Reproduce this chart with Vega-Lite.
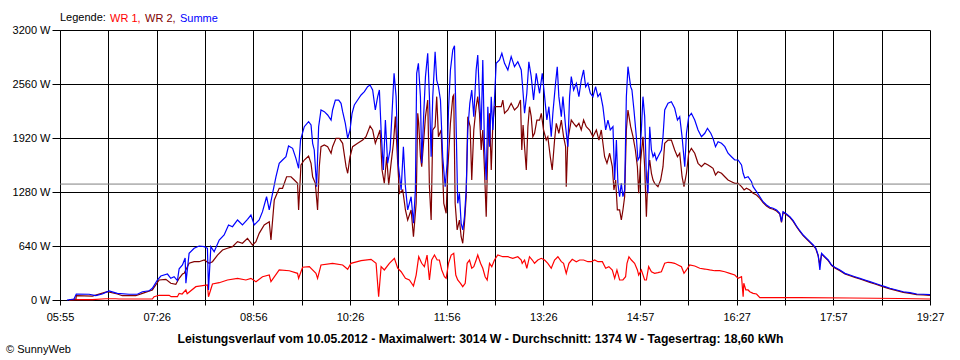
{
"$schema":"https://vega.github.io/schema/vega-lite/v6.json",
"width":870,"height":270,"autosize":"none",
"padding":{"left":60,"top":30,"right":30,"bottom":60},
"background":"white",
"config":{"font":"Liberation Sans","view":{"stroke":null}},
"title":{"text":"© SunnyWeb","orient":"bottom","anchor":"start","dx":-6,"offset":0,"fontSize":11,"fontWeight":"normal","color":"#000"},
"layer":[
{"data":{"values":[
{"s":"WR 1","t":363.4,"w":0},{"s":"WR 1","t":370.2,"w":4},{"s":"WR 1","t":385.2,"w":4},{"s":"WR 1","t":397.7,"w":15},{"s":"WR 1","t":407.0,"w":15},{"s":"WR 1","t":410.1,"w":12},{"s":"WR 1","t":441.2,"w":12},{"s":"WR 1","t":442.8,"w":39},{"s":"WR 1","t":447.5,"w":56},{"s":"WR 1","t":456.9,"w":56},{"s":"WR 1","t":458.7,"w":39},{"s":"WR 1","t":464.6,"w":39},{"s":"WR 1","t":466.2,"w":79},{"s":"WR 1","t":469.0,"w":71},{"s":"WR 1","t":472.5,"w":119},{"s":"WR 1","t":473.7,"w":75},{"s":"WR 1","t":481.8,"w":158},{"s":"WR 1","t":492.6,"w":178},{"s":"WR 1","t":493.6,"w":39},{"s":"WR 1","t":497.3,"w":190},{"s":"WR 1","t":503.6,"w":205},{"s":"WR 1","t":511.3,"w":237},{"s":"WR 1","t":520.7,"w":257},{"s":"WR 1","t":528.5,"w":237},{"s":"WR 1","t":533.2,"w":257},{"s":"WR 1","t":537.9,"w":217},{"s":"WR 1","t":544.0,"w":276},{"s":"WR 1","t":550.3,"w":296},{"s":"WR 1","t":551.9,"w":217},{"s":"WR 1","t":559.6,"w":356},{"s":"WR 1","t":569.0,"w":347},{"s":"WR 1","t":576.7,"w":316},{"s":"WR 1","t":577.7,"w":257},{"s":"WR 1","t":581.4,"w":388},{"s":"WR 1","t":587.7,"w":395},{"s":"WR 1","t":593.9,"w":316},{"s":"WR 1","t":595.4,"w":257},{"s":"WR 1","t":598.6,"w":415},{"s":"WR 1","t":609.4,"w":435},{"s":"WR 1","t":618.8,"w":415},{"s":"WR 1","t":623.5,"w":364},{"s":"WR 1","t":626.6,"w":435},{"s":"WR 1","t":636.0,"w":466},{"s":"WR 1","t":645.3,"w":482},{"s":"WR 1","t":650.0,"w":435},{"s":"WR 1","t":652.4,"w":39},{"s":"WR 1","t":654.7,"w":395},{"s":"WR 1","t":657.7,"w":356},{"s":"WR 1","t":662.4,"w":435},{"s":"WR 1","t":667.1,"w":494},{"s":"WR 1","t":670.2,"w":376},{"s":"WR 1","t":673.4,"w":335},{"s":"WR 1","t":677.4,"w":257},{"s":"WR 1","t":681.1,"w":237},{"s":"WR 1","t":684.9,"w":166},{"s":"WR 1","t":687.4,"w":296},{"s":"WR 1","t":689.8,"w":513},{"s":"WR 1","t":692.6,"w":435},{"s":"WR 1","t":695.1,"w":395},{"s":"WR 1","t":697.6,"w":533},{"s":"WR 1","t":699.8,"w":237},{"s":"WR 1","t":701.9,"w":474},{"s":"WR 1","t":704.5,"w":533},{"s":"WR 1","t":707.0,"w":474},{"s":"WR 1","t":709.1,"w":474},{"s":"WR 1","t":711.3,"w":356},{"s":"WR 1","t":713.8,"w":276},{"s":"WR 1","t":715.4,"w":257},{"s":"WR 1","t":717.6,"w":435},{"s":"WR 1","t":720.1,"w":533},{"s":"WR 1","t":722.5,"w":553},{"s":"WR 1","t":724.4,"w":296},{"s":"WR 1","t":726.2,"w":237},{"s":"WR 1","t":728.8,"w":198},{"s":"WR 1","t":730.9,"w":158},{"s":"WR 1","t":733.2,"w":198},{"s":"WR 1","t":735.0,"w":435},{"s":"WR 1","t":737.2,"w":474},{"s":"WR 1","t":739.3,"w":376},{"s":"WR 1","t":741.2,"w":395},{"s":"WR 1","t":743.4,"w":474},{"s":"WR 1","t":744.9,"w":533},{"s":"WR 1","t":747.5,"w":435},{"s":"WR 1","t":749.6,"w":376},{"s":"WR 1","t":751.8,"w":276},{"s":"WR 1","t":753.7,"w":237},{"s":"WR 1","t":755.9,"w":435},{"s":"WR 1","t":758.0,"w":395},{"s":"WR 1","t":760.5,"w":474},{"s":"WR 1","t":763.6,"w":533},{"s":"WR 1","t":768.3,"w":513},{"s":"WR 1","t":773.0,"w":513},{"s":"WR 1","t":777.6,"w":494},{"s":"WR 1","t":782.3,"w":513},{"s":"WR 1","t":785.5,"w":474},{"s":"WR 1","t":786.4,"w":435},{"s":"WR 1","t":788.6,"w":474},{"s":"WR 1","t":790.7,"w":376},{"s":"WR 1","t":793.2,"w":513},{"s":"WR 1","t":795.8,"w":474},{"s":"WR 1","t":797.9,"w":435},{"s":"WR 1","t":801.0,"w":474},{"s":"WR 1","t":804.2,"w":494},{"s":"WR 1","t":807.3,"w":474},{"s":"WR 1","t":810.3,"w":435},{"s":"WR 1","t":813.5,"w":376},{"s":"WR 1","t":816.6,"w":474},{"s":"WR 1","t":819.7,"w":513},{"s":"WR 1","t":822.9,"w":454},{"s":"WR 1","t":825.0,"w":435},{"s":"WR 1","t":827.5,"w":316},{"s":"WR 1","t":830.0,"w":435},{"s":"WR 1","t":833.1,"w":482},{"s":"WR 1","t":836.9,"w":454},{"s":"WR 1","t":840.0,"w":474},{"s":"WR 1","t":843.7,"w":474},{"s":"WR 1","t":847.7,"w":454},{"s":"WR 1","t":850.9,"w":454},{"s":"WR 1","t":854.0,"w":474},{"s":"WR 1","t":857.1,"w":454},{"s":"WR 1","t":861.2,"w":454},{"s":"WR 1","t":864.3,"w":376},{"s":"WR 1","t":867.3,"w":395},{"s":"WR 1","t":870.5,"w":356},{"s":"WR 1","t":872.7,"w":257},{"s":"WR 1","t":874.8,"w":356},{"s":"WR 1","t":877.3,"w":237},{"s":"WR 1","t":880.4,"w":237},{"s":"WR 1","t":882.9,"w":276},{"s":"WR 1","t":884.2,"w":435},{"s":"WR 1","t":886.0,"w":513},{"s":"WR 1","t":888.3,"w":474},{"s":"WR 1","t":891.3,"w":435},{"s":"WR 1","t":893.9,"w":356},{"s":"WR 1","t":895.1,"w":296},{"s":"WR 1","t":897.6,"w":356},{"s":"WR 1","t":900.7,"w":237},{"s":"WR 1","t":902.3,"w":237},{"s":"WR 1","t":904.4,"w":395},{"s":"WR 1","t":907.0,"w":335},{"s":"WR 1","t":910.0,"w":316},{"s":"WR 1","t":913.1,"w":324},{"s":"WR 1","t":916.3,"w":335},{"s":"WR 1","t":919.4,"w":435},{"s":"WR 1","t":922.5,"w":447},{"s":"WR 1","t":925.6,"w":442},{"s":"WR 1","t":928.7,"w":435},{"s":"WR 1","t":931.8,"w":415},{"s":"WR 1","t":935.0,"w":395},{"s":"WR 1","t":937.4,"w":316},{"s":"WR 1","t":939.7,"w":356},{"s":"WR 1","t":942.7,"w":415},{"s":"WR 1","t":947.4,"w":403},{"s":"WR 1","t":952.1,"w":376},{"s":"WR 1","t":956.8,"w":367},{"s":"WR 1","t":961.4,"w":356},{"s":"WR 1","t":966.1,"w":347},{"s":"WR 1","t":970.8,"w":347},{"s":"WR 1","t":975.5,"w":335},{"s":"WR 1","t":980.1,"w":316},{"s":"WR 1","t":984.8,"w":296},{"s":"WR 1","t":987.9,"w":257},{"s":"WR 1","t":991.1,"w":276},{"s":"WR 1","t":992.6,"w":39},{"s":"WR 1","t":993.2,"w":198},{"s":"WR 1","t":995.1,"w":119},{"s":"WR 1","t":997.2,"w":119},{"s":"WR 1","t":998.8,"w":98},{"s":"WR 1","t":1001.9,"w":79},{"s":"WR 1","t":1005.1,"w":71},{"s":"WR 1","t":1008.2,"w":27},{"s":"WR 1","t":1045.5,"w":27},{"s":"WR 1","t":1092.3,"w":24},{"s":"WR 1","t":1139.0,"w":18},{"s":"WR 1","t":1167.0,"w":12},
{"s":"WR 2","t":363.4,"w":0},{"s":"WR 2","t":369.9,"w":12},{"s":"WR 2","t":370.2,"w":51},{"s":"WR 2","t":385.2,"w":47},{"s":"WR 2","t":399.2,"w":98},{"s":"WR 2","t":408.5,"w":71},{"s":"WR 2","t":413.2,"w":51},{"s":"WR 2","t":425.7,"w":51},{"s":"WR 2","t":431.9,"w":79},{"s":"WR 2","t":441.2,"w":119},{"s":"WR 2","t":447.5,"w":237},{"s":"WR 2","t":453.8,"w":245},{"s":"WR 2","t":458.4,"w":198},{"s":"WR 2","t":463.1,"w":186},{"s":"WR 2","t":466.2,"w":257},{"s":"WR 2","t":469.3,"w":308},{"s":"WR 2","t":470.9,"w":316},{"s":"WR 2","t":475.5,"w":435},{"s":"WR 2","t":480.2,"w":454},{"s":"WR 2","t":484.9,"w":454},{"s":"WR 2","t":489.6,"w":474},{"s":"WR 2","t":494.2,"w":435},{"s":"WR 2","t":497.3,"w":454},{"s":"WR 2","t":502.0,"w":533},{"s":"WR 2","t":506.7,"w":593},{"s":"WR 2","t":511.3,"w":613},{"s":"WR 2","t":516.0,"w":632},{"s":"WR 2","t":520.7,"w":691},{"s":"WR 2","t":525.3,"w":672},{"s":"WR 2","t":530.0,"w":731},{"s":"WR 2","t":534.7,"w":652},{"s":"WR 2","t":537.9,"w":691},{"s":"WR 2","t":540.9,"w":790},{"s":"WR 2","t":545.6,"w":889},{"s":"WR 2","t":550.3,"w":928},{"s":"WR 2","t":551.9,"w":711},{"s":"WR 2","t":555.0,"w":1185},{"s":"WR 2","t":559.6,"w":1324},{"s":"WR 2","t":562.7,"w":1324},{"s":"WR 2","t":566.5,"w":1461},{"s":"WR 2","t":570.6,"w":1461},{"s":"WR 2","t":573.7,"w":1422},{"s":"WR 2","t":576.7,"w":1383},{"s":"WR 2","t":577.7,"w":1067},{"s":"WR 2","t":579.9,"w":1600},{"s":"WR 2","t":583.0,"w":1659},{"s":"WR 2","t":587.0,"w":1707},{"s":"WR 2","t":589.3,"w":1620},{"s":"WR 2","t":590.8,"w":1461},{"s":"WR 2","t":593.3,"w":1383},{"s":"WR 2","t":595.4,"w":1067},{"s":"WR 2","t":597.0,"w":1580},{"s":"WR 2","t":598.6,"w":1817},{"s":"WR 2","t":601.7,"w":1837},{"s":"WR 2","t":604.8,"w":1817},{"s":"WR 2","t":608.0,"w":1739},{"s":"WR 2","t":609.4,"w":1817},{"s":"WR 2","t":612.6,"w":1916},{"s":"WR 2","t":615.7,"w":1916},{"s":"WR 2","t":618.8,"w":1857},{"s":"WR 2","t":622.0,"w":1580},{"s":"WR 2","t":623.5,"w":1502},{"s":"WR 2","t":625.7,"w":1698},{"s":"WR 2","t":628.1,"w":1817},{"s":"WR 2","t":632.8,"w":1857},{"s":"WR 2","t":637.5,"w":1896},{"s":"WR 2","t":640.6,"w":1935},{"s":"WR 2","t":644.4,"w":2062},{"s":"WR 2","t":646.8,"w":2015},{"s":"WR 2","t":649.3,"w":1857},{"s":"WR 2","t":651.5,"w":1935},{"s":"WR 2","t":653.7,"w":2015},{"s":"WR 2","t":655.6,"w":1541},{"s":"WR 2","t":657.7,"w":1383},{"s":"WR 2","t":659.9,"w":1698},{"s":"WR 2","t":661.8,"w":1363},{"s":"WR 2","t":664.0,"w":1620},{"s":"WR 2","t":666.2,"w":1857},{"s":"WR 2","t":668.0,"w":2173},{"s":"WR 2","t":670.2,"w":1620},{"s":"WR 2","t":671.8,"w":1265},{"s":"WR 2","t":674.9,"w":1304},{"s":"WR 2","t":677.4,"w":1067},{"s":"WR 2","t":679.5,"w":948},{"s":"WR 2","t":682.7,"w":1067},{"s":"WR 2","t":684.9,"w":750},{"s":"WR 2","t":687.4,"w":1146},{"s":"WR 2","t":688.9,"w":2213},{"s":"WR 2","t":689.8,"w":2094},{"s":"WR 2","t":691.4,"w":1698},{"s":"WR 2","t":692.6,"w":1580},{"s":"WR 2","t":694.5,"w":1896},{"s":"WR 2","t":696.1,"w":2173},{"s":"WR 2","t":698.2,"w":2370},{"s":"WR 2","t":699.8,"w":1343},{"s":"WR 2","t":701.4,"w":948},{"s":"WR 2","t":702.9,"w":2015},{"s":"WR 2","t":705.1,"w":2054},{"s":"WR 2","t":706.6,"w":2410},{"s":"WR 2","t":708.2,"w":1935},{"s":"WR 2","t":710.7,"w":2015},{"s":"WR 2","t":713.2,"w":1146},{"s":"WR 2","t":715.4,"w":1028},{"s":"WR 2","t":716.9,"w":1541},{"s":"WR 2","t":719.4,"w":2094},{"s":"WR 2","t":721.6,"w":2410},{"s":"WR 2","t":722.5,"w":2430},{"s":"WR 2","t":723.8,"w":1146},{"s":"WR 2","t":725.7,"w":830},{"s":"WR 2","t":727.8,"w":948},{"s":"WR 2","t":729.4,"w":750},{"s":"WR 2","t":730.9,"w":672},{"s":"WR 2","t":732.5,"w":909},{"s":"WR 2","t":734.1,"w":1224},{"s":"WR 2","t":735.6,"w":2173},{"s":"WR 2","t":737.8,"w":2054},{"s":"WR 2","t":739.3,"w":1422},{"s":"WR 2","t":741.2,"w":2015},{"s":"WR 2","t":743.4,"w":2291},{"s":"WR 2","t":744.9,"w":2410},{"s":"WR 2","t":746.5,"w":2213},{"s":"WR 2","t":748.1,"w":1778},{"s":"WR 2","t":749.6,"w":2015},{"s":"WR 2","t":751.2,"w":1541},{"s":"WR 2","t":752.8,"w":987},{"s":"WR 2","t":754.3,"w":1778},{"s":"WR 2","t":755.9,"w":2213},{"s":"WR 2","t":757.5,"w":1541},{"s":"WR 2","t":759.0,"w":2094},{"s":"WR 2","t":760.5,"w":2291},{"s":"WR 2","t":763.6,"w":2291},{"s":"WR 2","t":766.8,"w":2291},{"s":"WR 2","t":768.3,"w":2370},{"s":"WR 2","t":769.9,"w":2213},{"s":"WR 2","t":773.0,"w":2252},{"s":"WR 2","t":776.1,"w":2331},{"s":"WR 2","t":779.2,"w":2252},{"s":"WR 2","t":782.3,"w":2291},{"s":"WR 2","t":784.8,"w":2370},{"s":"WR 2","t":786.0,"w":1778},{"s":"WR 2","t":787.2,"w":2074},{"s":"WR 2","t":788.6,"w":1817},{"s":"WR 2","t":790.2,"w":1541},{"s":"WR 2","t":791.7,"w":2054},{"s":"WR 2","t":793.2,"w":2291},{"s":"WR 2","t":794.8,"w":2173},{"s":"WR 2","t":796.3,"w":1935},{"s":"WR 2","t":797.9,"w":1976},{"s":"WR 2","t":800.1,"w":2133},{"s":"WR 2","t":802.6,"w":2133},{"s":"WR 2","t":804.2,"w":2213},{"s":"WR 2","t":806.3,"w":2015},{"s":"WR 2","t":808.8,"w":1896},{"s":"WR 2","t":810.3,"w":1935},{"s":"WR 2","t":812.6,"w":1698},{"s":"WR 2","t":814.4,"w":1541},{"s":"WR 2","t":816.6,"w":1896},{"s":"WR 2","t":818.2,"w":2094},{"s":"WR 2","t":820.6,"w":1976},{"s":"WR 2","t":822.9,"w":2133},{"s":"WR 2","t":825.0,"w":1935},{"s":"WR 2","t":826.9,"w":1817},{"s":"WR 2","t":827.5,"w":1343},{"s":"WR 2","t":829.0,"w":1896},{"s":"WR 2","t":830.6,"w":2015},{"s":"WR 2","t":832.2,"w":2133},{"s":"WR 2","t":834.4,"w":2094},{"s":"WR 2","t":836.9,"w":2054},{"s":"WR 2","t":839.3,"w":2094},{"s":"WR 2","t":841.5,"w":2015},{"s":"WR 2","t":843.7,"w":2133},{"s":"WR 2","t":846.2,"w":2054},{"s":"WR 2","t":849.3,"w":2015},{"s":"WR 2","t":852.4,"w":1935},{"s":"WR 2","t":855.6,"w":2015},{"s":"WR 2","t":858.0,"w":1896},{"s":"WR 2","t":860.2,"w":2015},{"s":"WR 2","t":863.3,"w":1698},{"s":"WR 2","t":865.5,"w":1620},{"s":"WR 2","t":868.0,"w":1739},{"s":"WR 2","t":870.5,"w":1580},{"s":"WR 2","t":872.0,"w":1304},{"s":"WR 2","t":873.6,"w":1422},{"s":"WR 2","t":875.2,"w":1067},{"s":"WR 2","t":877.3,"w":1067},{"s":"WR 2","t":878.9,"w":948},{"s":"WR 2","t":880.4,"w":1067},{"s":"WR 2","t":882.0,"w":1224},{"s":"WR 2","t":883.6,"w":2015},{"s":"WR 2","t":885.1,"w":2252},{"s":"WR 2","t":887.6,"w":2054},{"s":"WR 2","t":889.8,"w":1935},{"s":"WR 2","t":892.0,"w":1778},{"s":"WR 2","t":893.9,"w":1580},{"s":"WR 2","t":895.1,"w":1265},{"s":"WR 2","t":897.0,"w":1659},{"s":"WR 2","t":899.1,"w":1935},{"s":"WR 2","t":900.7,"w":1580},{"s":"WR 2","t":902.3,"w":987},{"s":"WR 2","t":903.8,"w":1502},{"s":"WR 2","t":905.4,"w":1659},{"s":"WR 2","t":907.0,"w":1502},{"s":"WR 2","t":908.5,"w":1422},{"s":"WR 2","t":910.0,"w":1383},{"s":"WR 2","t":913.1,"w":1343},{"s":"WR 2","t":915.6,"w":1422},{"s":"WR 2","t":917.8,"w":1580},{"s":"WR 2","t":919.4,"w":1857},{"s":"WR 2","t":922.5,"w":1896},{"s":"WR 2","t":925.6,"w":1896},{"s":"WR 2","t":928.7,"w":1778},{"s":"WR 2","t":931.3,"w":1698},{"s":"WR 2","t":933.4,"w":1739},{"s":"WR 2","t":935.6,"w":1461},{"s":"WR 2","t":937.4,"w":1343},{"s":"WR 2","t":939.7,"w":1502},{"s":"WR 2","t":941.8,"w":1739},{"s":"WR 2","t":944.3,"w":1798},{"s":"WR 2","t":947.4,"w":1739},{"s":"WR 2","t":950.5,"w":1620},{"s":"WR 2","t":953.7,"w":1580},{"s":"WR 2","t":956.8,"w":1620},{"s":"WR 2","t":959.9,"w":1600},{"s":"WR 2","t":962.4,"w":1580},{"s":"WR 2","t":964.5,"w":1561},{"s":"WR 2","t":966.8,"w":1482},{"s":"WR 2","t":969.2,"w":1521},{"s":"WR 2","t":972.4,"w":1502},{"s":"WR 2","t":975.5,"w":1461},{"s":"WR 2","t":978.5,"w":1422},{"s":"WR 2","t":981.7,"w":1402},{"s":"WR 2","t":984.8,"w":1383},{"s":"WR 2","t":987.9,"w":1383},{"s":"WR 2","t":991.1,"w":1343},{"s":"WR 2","t":993.5,"w":1304},{"s":"WR 2","t":995.7,"w":1324},{"s":"WR 2","t":998.8,"w":1304},{"s":"WR 2","t":1001.9,"w":1265},{"s":"WR 2","t":1005.1,"w":1244},{"s":"WR 2","t":1008.2,"w":1205},{"s":"WR 2","t":1011.2,"w":1153},{"s":"WR 2","t":1014.4,"w":1114},{"s":"WR 2","t":1017.5,"w":1087},{"s":"WR 2","t":1020.6,"w":1075},{"s":"WR 2","t":1023.8,"w":1055},{"s":"WR 2","t":1026.8,"w":1019},{"s":"WR 2","t":1028.4,"w":921},{"s":"WR 2","t":1029.9,"w":1039},{"s":"WR 2","t":1033.1,"w":1011},{"s":"WR 2","t":1036.2,"w":979},{"s":"WR 2","t":1039.3,"w":932},{"s":"WR 2","t":1042.4,"w":869},{"s":"WR 2","t":1045.5,"w":813},{"s":"WR 2","t":1048.6,"w":762},{"s":"WR 2","t":1051.8,"w":723},{"s":"WR 2","t":1054.9,"w":683},{"s":"WR 2","t":1058.0,"w":644},{"s":"WR 2","t":1060.5,"w":605},{"s":"WR 2","t":1062.6,"w":525},{"s":"WR 2","t":1064.2,"w":420},{"s":"WR 2","t":1065.8,"w":545},{"s":"WR 2","t":1068.9,"w":505},{"s":"WR 2","t":1072.0,"w":466},{"s":"WR 2","t":1075.2,"w":407},{"s":"WR 2","t":1078.2,"w":380},{"s":"WR 2","t":1082.9,"w":348},{"s":"WR 2","t":1087.6,"w":308},{"s":"WR 2","t":1092.3,"w":288},{"s":"WR 2","t":1096.9,"w":268},{"s":"WR 2","t":1101.6,"w":249},{"s":"WR 2","t":1106.3,"w":229},{"s":"WR 2","t":1110.9,"w":209},{"s":"WR 2","t":1115.6,"w":190},{"s":"WR 2","t":1120.3,"w":170},{"s":"WR 2","t":1125.0,"w":150},{"s":"WR 2","t":1129.6,"w":131},{"s":"WR 2","t":1135.9,"w":111},{"s":"WR 2","t":1142.1,"w":90},{"s":"WR 2","t":1148.3,"w":79},{"s":"WR 2","t":1154.6,"w":63},{"s":"WR 2","t":1160.7,"w":60},{"s":"WR 2","t":1167.0,"w":55},
{"s":"Summe","t":361.5,"w":0},{"s":"Summe","t":368.1,"w":12},{"s":"Summe","t":370.2,"w":71},{"s":"Summe","t":382.1,"w":68},{"s":"Summe","t":388.4,"w":51},{"s":"Summe","t":394.5,"w":71},{"s":"Summe","t":400.8,"w":107},{"s":"Summe","t":408.5,"w":79},{"s":"Summe","t":419.5,"w":68},{"s":"Summe","t":427.2,"w":68},{"s":"Summe","t":431.9,"w":98},{"s":"Summe","t":438.2,"w":110},{"s":"Summe","t":441.2,"w":139},{"s":"Summe","t":445.9,"w":237},{"s":"Summe","t":449.1,"w":284},{"s":"Summe","t":455.3,"w":308},{"s":"Summe","t":458.4,"w":257},{"s":"Summe","t":461.5,"w":276},{"s":"Summe","t":464.6,"w":229},{"s":"Summe","t":466.2,"w":370},{"s":"Summe","t":469.3,"w":415},{"s":"Summe","t":471.8,"w":498},{"s":"Summe","t":472.5,"w":198},{"s":"Summe","t":475.5,"w":553},{"s":"Summe","t":480.2,"w":613},{"s":"Summe","t":484.9,"w":640},{"s":"Summe","t":489.6,"w":632},{"s":"Summe","t":492.6,"w":613},{"s":"Summe","t":493.6,"w":119},{"s":"Summe","t":495.8,"w":632},{"s":"Summe","t":498.9,"w":572},{"s":"Summe","t":503.6,"w":711},{"s":"Summe","t":508.2,"w":770},{"s":"Summe","t":512.3,"w":889},{"s":"Summe","t":516.0,"w":869},{"s":"Summe","t":520.7,"w":948},{"s":"Summe","t":525.3,"w":889},{"s":"Summe","t":530.0,"w":956},{"s":"Summe","t":533.2,"w":1007},{"s":"Summe","t":536.3,"w":889},{"s":"Summe","t":540.9,"w":948},{"s":"Summe","t":544.0,"w":1047},{"s":"Summe","t":547.8,"w":1224},{"s":"Summe","t":550.3,"w":1067},{"s":"Summe","t":553.4,"w":1265},{"s":"Summe","t":556.6,"w":1461},{"s":"Summe","t":559.6,"w":1620},{"s":"Summe","t":562.7,"w":1659},{"s":"Summe","t":565.9,"w":1698},{"s":"Summe","t":568.3,"w":1825},{"s":"Summe","t":572.1,"w":1798},{"s":"Summe","t":575.2,"w":1679},{"s":"Summe","t":577.7,"w":1561},{"s":"Summe","t":579.5,"w":1896},{"s":"Summe","t":583.0,"w":2054},{"s":"Summe","t":587.0,"w":2113},{"s":"Summe","t":589.3,"w":2074},{"s":"Summe","t":590.8,"w":1857},{"s":"Summe","t":592.3,"w":1778},{"s":"Summe","t":594.5,"w":1343},{"s":"Summe","t":596.4,"w":2054},{"s":"Summe","t":598.6,"w":2252},{"s":"Summe","t":601.7,"w":2232},{"s":"Summe","t":604.8,"w":2193},{"s":"Summe","t":608.0,"w":2133},{"s":"Summe","t":609.4,"w":2252},{"s":"Summe","t":612.0,"w":2370},{"s":"Summe","t":615.1,"w":2370},{"s":"Summe","t":617.3,"w":2331},{"s":"Summe","t":618.8,"w":2232},{"s":"Summe","t":621.3,"w":2094},{"s":"Summe","t":623.5,"w":1916},{"s":"Summe","t":625.7,"w":2015},{"s":"Summe","t":627.6,"w":2213},{"s":"Summe","t":629.7,"w":2311},{"s":"Summe","t":632.8,"w":2370},{"s":"Summe","t":636.0,"w":2430},{"s":"Summe","t":639.1,"w":2469},{"s":"Summe","t":642.1,"w":2528},{"s":"Summe","t":644.4,"w":2548},{"s":"Summe","t":646.8,"w":2489},{"s":"Summe","t":649.3,"w":2252},{"s":"Summe","t":651.5,"w":2410},{"s":"Summe","t":653.1,"w":2489},{"s":"Summe","t":654.7,"w":2015},{"s":"Summe","t":656.8,"w":1541},{"s":"Summe","t":658.7,"w":2133},{"s":"Summe","t":660.8,"w":1620},{"s":"Summe","t":663.1,"w":1778},{"s":"Summe","t":664.9,"w":2213},{"s":"Summe","t":666.8,"w":2687},{"s":"Summe","t":668.7,"w":2410},{"s":"Summe","t":670.6,"w":1620},{"s":"Summe","t":673.4,"w":1304},{"s":"Summe","t":675.5,"w":1817},{"s":"Summe","t":677.4,"w":1343},{"s":"Summe","t":679.5,"w":1067},{"s":"Summe","t":682.7,"w":1224},{"s":"Summe","t":684.9,"w":909},{"s":"Summe","t":686.7,"w":1304},{"s":"Summe","t":687.9,"w":2687},{"s":"Summe","t":689.5,"w":2805},{"s":"Summe","t":691.4,"w":2410},{"s":"Summe","t":692.6,"w":1620},{"s":"Summe","t":694.5,"w":2213},{"s":"Summe","t":696.1,"w":2647},{"s":"Summe","t":698.2,"w":2924},{"s":"Summe","t":699.8,"w":2410},{"s":"Summe","t":701.4,"w":1698},{"s":"Summe","t":702.9,"w":2410},{"s":"Summe","t":705.1,"w":2943},{"s":"Summe","t":706.6,"w":2607},{"s":"Summe","t":708.2,"w":2528},{"s":"Summe","t":710.1,"w":2370},{"s":"Summe","t":712.2,"w":1698},{"s":"Summe","t":714.5,"w":1343},{"s":"Summe","t":716.3,"w":1620},{"s":"Summe","t":717.6,"w":2252},{"s":"Summe","t":719.4,"w":2726},{"s":"Summe","t":721.6,"w":2963},{"s":"Summe","t":723.2,"w":3014},{"s":"Summe","t":724.8,"w":2015},{"s":"Summe","t":726.2,"w":1146},{"s":"Summe","t":727.8,"w":1265},{"s":"Summe","t":729.4,"w":909},{"s":"Summe","t":730.9,"w":830},{"s":"Summe","t":732.5,"w":987},{"s":"Summe","t":734.1,"w":1304},{"s":"Summe","t":735.6,"w":2015},{"s":"Summe","t":737.5,"w":2331},{"s":"Summe","t":739.3,"w":2489},{"s":"Summe","t":741.2,"w":2173},{"s":"Summe","t":743.4,"w":2726},{"s":"Summe","t":744.9,"w":2904},{"s":"Summe","t":746.5,"w":2410},{"s":"Summe","t":748.1,"w":2015},{"s":"Summe","t":749.6,"w":2844},{"s":"Summe","t":751.2,"w":1817},{"s":"Summe","t":752.8,"w":1422},{"s":"Summe","t":754.3,"w":2291},{"s":"Summe","t":755.9,"w":1817},{"s":"Summe","t":757.5,"w":2410},{"s":"Summe","t":759.0,"w":2015},{"s":"Summe","t":760.5,"w":2370},{"s":"Summe","t":762.1,"w":2805},{"s":"Summe","t":765.2,"w":2844},{"s":"Summe","t":767.4,"w":2924},{"s":"Summe","t":769.9,"w":2805},{"s":"Summe","t":773.0,"w":2726},{"s":"Summe","t":776.1,"w":2884},{"s":"Summe","t":779.2,"w":2765},{"s":"Summe","t":782.3,"w":2824},{"s":"Summe","t":785.5,"w":2726},{"s":"Summe","t":787.0,"w":2489},{"s":"Summe","t":788.6,"w":2213},{"s":"Summe","t":790.7,"w":2450},{"s":"Summe","t":792.6,"w":2824},{"s":"Summe","t":794.8,"w":2647},{"s":"Summe","t":797.0,"w":2370},{"s":"Summe","t":799.5,"w":2687},{"s":"Summe","t":801.0,"w":2568},{"s":"Summe","t":802.6,"w":2450},{"s":"Summe","t":805.1,"w":2687},{"s":"Summe","t":807.3,"w":2410},{"s":"Summe","t":809.4,"w":2133},{"s":"Summe","t":811.3,"w":2291},{"s":"Summe","t":813.5,"w":1935},{"s":"Summe","t":815.0,"w":2213},{"s":"Summe","t":817.5,"w":2568},{"s":"Summe","t":819.1,"w":2765},{"s":"Summe","t":820.6,"w":2410},{"s":"Summe","t":822.9,"w":2173},{"s":"Summe","t":824.4,"w":2410},{"s":"Summe","t":826.9,"w":2054},{"s":"Summe","t":829.0,"w":1817},{"s":"Summe","t":830.6,"w":2410},{"s":"Summe","t":832.2,"w":2647},{"s":"Summe","t":834.4,"w":2489},{"s":"Summe","t":836.9,"w":2568},{"s":"Summe","t":839.3,"w":2410},{"s":"Summe","t":841.5,"w":2607},{"s":"Summe","t":843.7,"w":2726},{"s":"Summe","t":845.6,"w":2528},{"s":"Summe","t":847.7,"w":2568},{"s":"Summe","t":850.0,"w":2450},{"s":"Summe","t":852.4,"w":2410},{"s":"Summe","t":854.9,"w":2528},{"s":"Summe","t":857.1,"w":2410},{"s":"Summe","t":859.3,"w":2450},{"s":"Summe","t":861.7,"w":2291},{"s":"Summe","t":864.3,"w":2015},{"s":"Summe","t":866.4,"w":2133},{"s":"Summe","t":868.6,"w":2015},{"s":"Summe","t":871.1,"w":2054},{"s":"Summe","t":872.7,"w":1422},{"s":"Summe","t":874.3,"w":1896},{"s":"Summe","t":875.7,"w":1383},{"s":"Summe","t":877.3,"w":1224},{"s":"Summe","t":878.9,"w":1383},{"s":"Summe","t":880.4,"w":1224},{"s":"Summe","t":882.0,"w":1304},{"s":"Summe","t":883.6,"w":2410},{"s":"Summe","t":885.1,"w":2765},{"s":"Summe","t":887.6,"w":2528},{"s":"Summe","t":888.8,"w":2489},{"s":"Summe","t":890.7,"w":2252},{"s":"Summe","t":892.9,"w":1935},{"s":"Summe","t":894.4,"w":1659},{"s":"Summe","t":896.0,"w":1698},{"s":"Summe","t":897.6,"w":2015},{"s":"Summe","t":899.1,"w":2410},{"s":"Summe","t":900.7,"w":2173},{"s":"Summe","t":902.3,"w":1461},{"s":"Summe","t":903.8,"w":1265},{"s":"Summe","t":905.4,"w":2054},{"s":"Summe","t":907.0,"w":1778},{"s":"Summe","t":908.5,"w":1698},{"s":"Summe","t":910.0,"w":1739},{"s":"Summe","t":911.6,"w":1659},{"s":"Summe","t":913.1,"w":1698},{"s":"Summe","t":916.3,"w":1778},{"s":"Summe","t":917.8,"w":1935},{"s":"Summe","t":919.4,"w":2252},{"s":"Summe","t":922.5,"w":2331},{"s":"Summe","t":925.6,"w":2350},{"s":"Summe","t":928.7,"w":2272},{"s":"Summe","t":931.3,"w":2133},{"s":"Summe","t":933.4,"w":2173},{"s":"Summe","t":935.6,"w":1935},{"s":"Summe","t":938.1,"w":1580},{"s":"Summe","t":939.7,"w":1976},{"s":"Summe","t":941.8,"w":2173},{"s":"Summe","t":944.3,"w":2213},{"s":"Summe","t":947.4,"w":2133},{"s":"Summe","t":950.5,"w":2015},{"s":"Summe","t":953.7,"w":1935},{"s":"Summe","t":956.8,"w":1976},{"s":"Summe","t":959.3,"w":2035},{"s":"Summe","t":962.4,"w":1976},{"s":"Summe","t":964.5,"w":1916},{"s":"Summe","t":966.8,"w":1817},{"s":"Summe","t":969.2,"w":1876},{"s":"Summe","t":972.4,"w":1857},{"s":"Summe","t":975.5,"w":1817},{"s":"Summe","t":978.5,"w":1739},{"s":"Summe","t":981.7,"w":1698},{"s":"Summe","t":984.8,"w":1659},{"s":"Summe","t":987.9,"w":1659},{"s":"Summe","t":991.1,"w":1600},{"s":"Summe","t":992.6,"w":1502},{"s":"Summe","t":994.1,"w":1446},{"s":"Summe","t":997.2,"w":1461},{"s":"Summe","t":1000.4,"w":1402},{"s":"Summe","t":1001.9,"w":1343},{"s":"Summe","t":1005.1,"w":1284},{"s":"Summe","t":1008.2,"w":1224},{"s":"Summe","t":1011.2,"w":1165},{"s":"Summe","t":1014.4,"w":1126},{"s":"Summe","t":1017.5,"w":1099},{"s":"Summe","t":1020.6,"w":1087},{"s":"Summe","t":1023.8,"w":1067},{"s":"Summe","t":1026.8,"w":1028},{"s":"Summe","t":1028.4,"w":928},{"s":"Summe","t":1029.9,"w":1047},{"s":"Summe","t":1033.1,"w":1019},{"s":"Summe","t":1036.2,"w":987},{"s":"Summe","t":1039.3,"w":940},{"s":"Summe","t":1042.4,"w":877},{"s":"Summe","t":1045.5,"w":821},{"s":"Summe","t":1048.6,"w":770},{"s":"Summe","t":1051.8,"w":731},{"s":"Summe","t":1054.9,"w":691},{"s":"Summe","t":1058.0,"w":652},{"s":"Summe","t":1060.5,"w":613},{"s":"Summe","t":1062.6,"w":533},{"s":"Summe","t":1064.2,"w":356},{"s":"Summe","t":1065.8,"w":553},{"s":"Summe","t":1068.9,"w":513},{"s":"Summe","t":1072.0,"w":474},{"s":"Summe","t":1075.2,"w":415},{"s":"Summe","t":1078.2,"w":388},{"s":"Summe","t":1082.9,"w":356},{"s":"Summe","t":1087.6,"w":316},{"s":"Summe","t":1092.3,"w":296},{"s":"Summe","t":1096.9,"w":276},{"s":"Summe","t":1101.6,"w":257},{"s":"Summe","t":1106.3,"w":237},{"s":"Summe","t":1110.9,"w":217},{"s":"Summe","t":1115.6,"w":198},{"s":"Summe","t":1120.3,"w":178},{"s":"Summe","t":1125.0,"w":158},{"s":"Summe","t":1129.6,"w":139},{"s":"Summe","t":1135.9,"w":119},{"s":"Summe","t":1142.1,"w":98},{"s":"Summe","t":1148.3,"w":87},{"s":"Summe","t":1154.6,"w":71},{"s":"Summe","t":1160.7,"w":68},{"s":"Summe","t":1167.0,"w":63}
]},
"mark":{"type":"line","strokeWidth":1.2,"interpolate":"linear"},
"encoding":{
"x":{"field":"t","type":"quantitative","scale":{"domain":[355,1167],"nice":false,"zero":false},
"axis":{"values":[355,400.111,445.222,490.333,535.444,580.556,625.667,670.778,715.889,761,806.111,851.222,896.333,941.444,986.556,1031.667,1076.778,1121.889,1167],
"labelExpr":"['05:55','','07:26','','08:56','','10:26','','11:56','','13:26','','14:57','','16:27','','17:57','','19:27'][round((datum.value-355)/45.1111)]",
"labelFlush":false,"labelOverlap":false,"labelBound":false,"labelFontSize":11,"labelColor":"#000","labelPadding":6,
"tickSize":5,"tickColor":"#000","domainColor":"#000","grid":true,"gridColor":"#000","gridOpacity":1,
"title":"Leistungsverlauf vom 10.05.2012 - Maximalwert: 3014 W - Durchschnitt: 1374 W - Tagesertrag: 18,60 kWh",
"titleFontWeight":"bold","titleFontSize":12.2,"titleColor":"#000","titlePadding":10,"titleX":420,"titleAnchor":"middle","titleAlign":"center"}},
"y":{"field":"w","type":"quantitative","scale":{"domain":[0,3200],"nice":false},
"axis":{"values":[0,640,1280,1920,2560,3200],"labelExpr":"datum.value + ' W'","labelFontSize":11,"labelColor":"#000","labelPadding":2,
"tickSize":8,"tickColor":"#000","domainColor":"#000","grid":true,"gridColor":"#000","gridOpacity":1,"title":null}},
"color":{"field":"s","type":"nominal","scale":{"domain":["WR 1","WR 2","Summe"],"range":["#FF0000","#800000","#0000FF"]},
"legend":{"orient":"top","direction":"horizontal","title":"Legende:","titleOrient":"left","titleFontWeight":"normal","titleFontSize":11,"titleColor":"#000","titlePadding":3,
"labelFontSize":11,"symbolType":"circle","symbolSize":0.01,"symbolOpacity":0,"symbolStrokeWidth":0.001,"labelOffset":-10,"columnPadding":3,"offset":6,"padding":0,
"labelExpr":"datum.label == 'Summe' ? datum.label : datum.label + ','",
"encode":{"labels":{"update":{"fill":{"scale":"color","field":"value"}}}}}}
}},
{"data":{"values":[{"avg":1374}]},"mark":{"type":"rule","color":"#808080","strokeWidth":1},
"encoding":{"y":{"field":"avg","type":"quantitative"}}}
]
}
